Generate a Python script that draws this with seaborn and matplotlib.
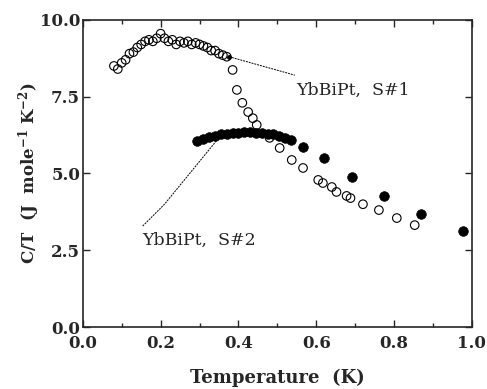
import numpy as np
import seaborn as sns
import matplotlib.pyplot as plt
from matplotlib.ticker import MultipleLocator

# S#1 (open circles)
t_s1 = [0.08, 0.09, 0.10, 0.11, 0.12, 0.13, 0.14, 0.15, 0.16, 0.17, 0.18, 0.19,
        0.20, 0.21, 0.22, 0.23, 0.24, 0.25, 0.26, 0.27, 0.28, 0.29, 0.30, 0.31,
        0.32, 0.33, 0.34, 0.35, 0.36, 0.37, 0.385, 0.396, 0.41, 0.425, 0.437,
        0.447, 0.48, 0.506, 0.537, 0.566, 0.605, 0.617, 0.64, 0.652, 0.678,
        0.688, 0.72, 0.761, 0.807, 0.853]
c_s1 = [8.5, 8.4, 8.6, 8.7, 8.9, 8.95, 9.1, 9.2, 9.3, 9.35, 9.3, 9.4,
        9.55, 9.4, 9.3, 9.35, 9.2, 9.3, 9.25, 9.3, 9.2, 9.25, 9.2, 9.15,
        9.1, 9.0, 9.0, 8.9, 8.85, 8.8, 8.37, 7.72, 7.3, 7.0, 6.8,
        6.58, 6.16, 5.83, 5.44, 5.18, 4.79, 4.69, 4.56, 4.4, 4.27,
        4.2, 4.0, 3.81, 3.55, 3.32]

# S#2 (filled circles)
t_s2 = [0.293, 0.31, 0.325, 0.34, 0.355, 0.37, 0.385, 0.40, 0.415, 0.43,
        0.445, 0.46, 0.475, 0.49, 0.505, 0.52, 0.535, 0.566, 0.62, 0.692,
        0.774, 0.869, 0.977]
c_s2 = [6.05, 6.12, 6.18, 6.22, 6.27, 6.3, 6.32, 6.33, 6.34, 6.34,
        6.33, 6.32, 6.3, 6.27, 6.22, 6.17, 6.1, 5.86, 5.5, 4.89,
        4.27, 3.68, 3.13]

labels = ["YbBiPt,  S#1", "YbBiPt,  S#2"]
x_ticks = [0.0, 0.2, 0.4, 0.6, 0.8, 1.0]
y_ticks = [0.0, 2.5, 5.0, 7.5, 10.0]

sns.set_style("ticks")
plt.rcParams['font.family'] = ['DejaVu Serif']
plt.rcParams['mathtext.fontset'] = 'dejavuserif'

fig = plt.figure(figsize=(4.87, 3.89), dpi=100)
ax = fig.add_axes([0.170, 0.159, 0.799, 0.790])

sns.scatterplot(x=t_s1, y=c_s1, ax=ax, marker='o', s=38, facecolors='none',
                edgecolor='black', linewidth=0.8)
sns.scatterplot(x=t_s2, y=c_s2, ax=ax, marker='o', s=48, color='black',
                edgecolor='black', linewidth=0.5)

# annotation lines
ax.plot([0.376, 0.545], [8.8, 8.2], color='black', lw=0.7, ls=(0, (2, 1)))
ax.plot([0.376], [8.8], marker='o', ms=2.5, color='black')
ax.text(0.548, 7.72, labels[0], fontsize=12.5, va='center', ha='left')
ax.plot([0.154, 0.21, 0.347], [3.29, 4.0, 6.12], color='black', lw=0.7, ls=(0, (2, 1)))
ax.text(0.154, 2.83, labels[1], fontsize=12.5, va='center', ha='left')

ax.set_xticks(x_ticks, labels=[f"{v:.1f}" for v in x_ticks])
ax.set_yticks(y_ticks, labels=[f"{v:.1f}" for v in y_ticks])
ax.xaxis.set_minor_locator(MultipleLocator(0.1))
ax.set_xlim(0.0, 1.0)
ax.set_ylim(0.0, 10.0)
ax.tick_params(which='both', direction='in', top=True, right=True,
               labelsize=12, width=1)
ax.tick_params(which='major', length=5)
ax.tick_params(which='minor', length=3)
ax.tick_params(axis='x', pad=6)
ax.tick_params(axis='y', pad=2)
for lab in ax.get_xticklabels() + ax.get_yticklabels():
    lab.set_fontweight('bold')
for sp in ax.spines.values():
    sp.set_linewidth(1.2)

ax.set_xlabel('Temperature  (K)', fontsize=13, fontweight='bold', labelpad=12)
ax.set_ylabel(r'C/T  (J  mole$^{\mathbf{-1}}$ K$^{\mathbf{-2}}$)', fontsize=12,
              fontweight='bold', labelpad=-2)

fig.savefig('out.png', dpi=100)
